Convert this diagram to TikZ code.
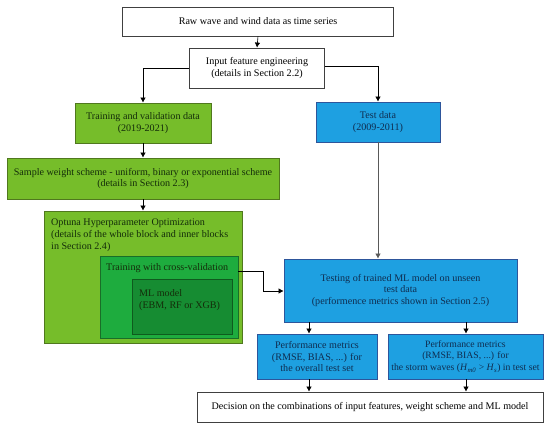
\documentclass[tikz,border=0pt]{standalone}
\usepackage{fontspec}
\setmainfont{Liberation Serif}
\usetikzlibrary{arrows.meta}
\definecolor{gfill}{RGB}{118,189,42}
\definecolor{gdraw}{RGB}{80,120,30}
\definecolor{cvfill}{RGB}{30,172,62}
\definecolor{cvdraw}{RGB}{25,110,40}
\definecolor{mlfill}{RGB}{22,140,50}
\definecolor{mldraw}{RGB}{15,90,30}
\definecolor{bfill}{RGB}{30,160,225}
\definecolor{bdraw}{RGB}{45,85,155}
\definecolor{gtext}{RGB}{20,45,10}
\definecolor{btext}{RGB}{15,45,80}
\tikzset{
  base/.style={rectangle, inner sep=0pt, font=\fontsize{10.1}{11.8}\selectfont, align=center},
  whitebox/.style={base, draw=black!75, fill=white, line width=0.8pt},
  greenbox/.style={base, draw=gdraw, fill=gfill, line width=0.8pt, text=gtext},
  bluebox/.style={base, draw=bdraw, fill=bfill, line width=0.8pt, text=btext},
  arr/.style={-{Latex[length=5pt,width=5.5pt]}, line width=0.6pt, black},
  garr/.style={-{Latex[length=5pt,width=5.5pt]}, line width=0.6pt, black!65},
}
\begin{document}
\begin{tikzpicture}[x=1pt,y=-1pt]
\useasboundingbox (0,0) rectangle (550,428);
% top boxes
\node[whitebox, minimum width=271pt, minimum height=29pt] (raw) at (258,21.5) {Raw wave and wind data as time series};
\node[whitebox, minimum width=135pt, minimum height=40pt] (inp) at (257,68) {Input feature engineering\\(details in Section 2.2)};
\node[greenbox, minimum width=136pt, minimum height=40pt] (train) at (143,123) {Training and validation data\\(2019-2021)};
\node[bluebox, minimum width=124pt, minimum height=40pt] (test) at (378,122) {Test data\\(2009-2011)};
\node[greenbox, minimum width=272pt, minimum height=41pt] (sample) at (143,178.5) {Sample weight scheme - uniform, binary or exponential scheme\\(details in Section 2.3)};
% optuna nested blocks
\node[greenbox, minimum width=198pt, minimum height=132pt] (opt) at (143,277) {};
\node[base, anchor=north west, align=left, text=gtext] (opttxt) at (51,219) {Optuna Hyperparameter Optimization\\(details of the whole block and inner blocks\\in Section 2.4)};
\node[base, draw=cvdraw, fill=cvfill, line width=0.8pt, minimum width=138pt, minimum height=82pt] (cv) at (169,297) {};
\node[base, anchor=north west, text=gtext] (cvtxt) at (106,263.5) {Training with cross-validation};
\node[base, draw=mldraw, fill=mlfill, line width=0.8pt, minimum width=100pt, minimum height=55pt] (ml) at (182,306.5) {};
\node[base, anchor=north west, align=left, text=gtext] (mltxt) at (139,289.5) {ML model\\(EBM, RF or XGB)};
% testing and results
\node[bluebox, minimum width=233pt, minimum height=63pt] (testing) at (400.5,290.5) {Testing of trained ML model on unseen\\test data\\(performence metrics shown in Section 2.5)};
\node[bluebox, minimum width=120pt, minimum height=45pt] (perf1) at (317,356.5) {Performance metrics\\(RMSE, BIAS, ...) for\\the overall test set};
\node[bluebox, minimum width=155pt, minimum height=45pt, font=\fontsize{9.7}{11.8}\selectfont] (perf2) at (465.5,356.5) {Performance metrics\\(RMSE, BIAS, ...) for\\the storm waves (\textit{H}\textsubscript{\textit{m0}} > \textit{H}\textsubscript{\textit{s}}) in test set};
\node[whitebox, minimum width=346pt, minimum height=30pt] (dec) at (370,407) {Decision on the combinations of input features, weight scheme and ML model};
% connectors
\draw[arr] (raw.south) -- (inp.north);
\draw[arr] (inp.west) -| (train.north);
\draw[arr] (inp.east |- 0,66) -| (test.north);
\draw[arr] (train.south) -- (sample.north);
\draw[arr] (sample.south) -- (opt.north);
\draw[garr] (test.south) -- (testing.north -| test.south);
\coordinate (bend) at (263,271);
\draw[arr] (cv.east |- bend) -- (bend) |- (testing.west |- 0,291);
\draw[arr] (testing.south -| 309,0) -- (perf1.north -| 309,0);
\draw[arr] (testing.south -| 466,0) -- (perf2.north -| 466,0);
\draw[arr] (perf1.south -| 309,0) -- (dec.north -| 309,0);
\draw[arr] (perf2.south -| 466,0) -- (dec.north -| 466,0);
\end{tikzpicture}
\end{document}
